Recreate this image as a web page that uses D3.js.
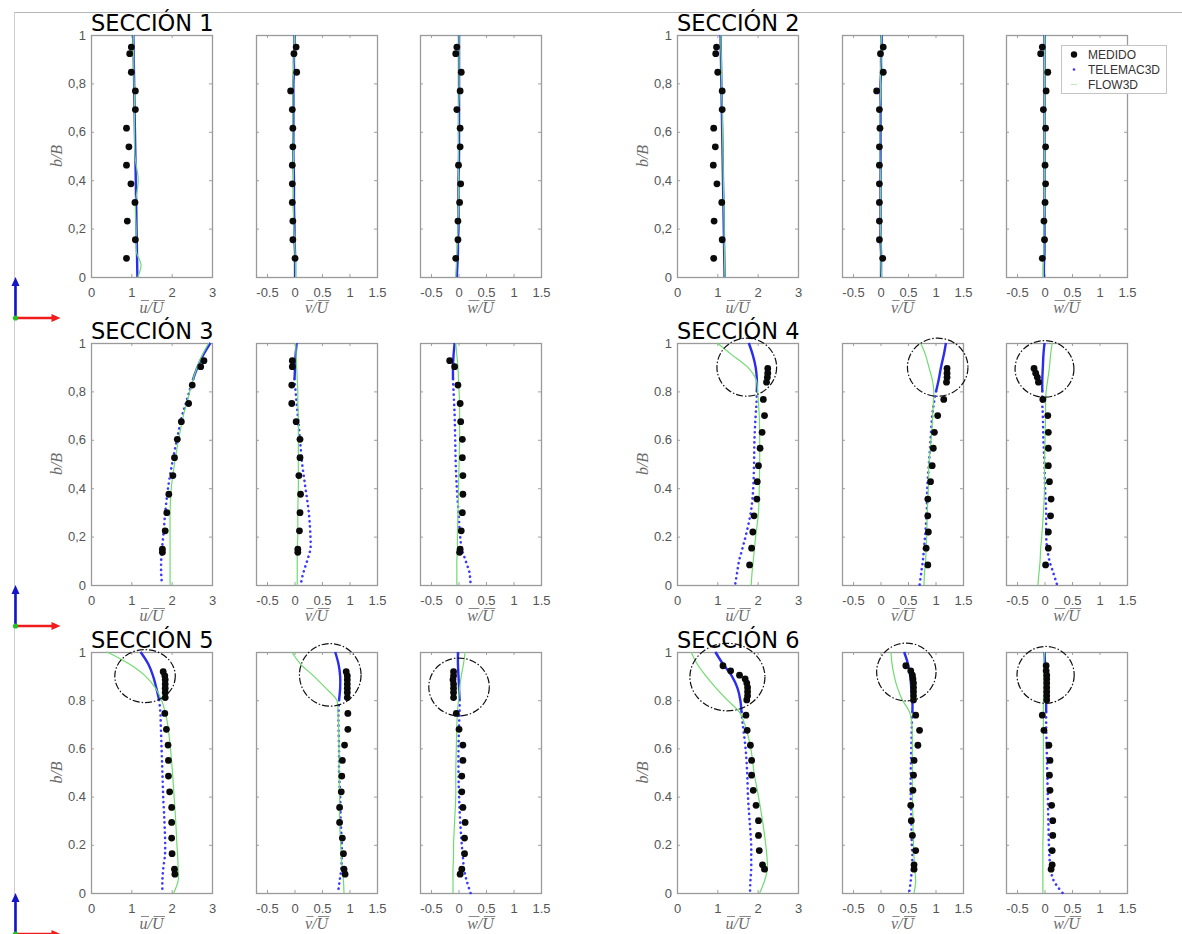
<!DOCTYPE html>
<html><head><meta charset="utf-8">
<script src="https://cdn.jsdelivr.net/npm/d3@7"></script>
<style>body{margin:0;background:#fff}svg{display:block}</style>
</head><body><svg id="c" width="1182" height="934"></svg>
<script>
// ---------- DATA ----------
const sectionTitles = ["SECCIÓN 1","SECCIÓN 2","SECCIÓN 3","SECCIÓN 4","SECCIÓN 5","SECCIÓN 6"];
const uTicks = [0,1,2,3];
const vwTicks = [-0.5,0,0.5,1,1.5];
const bTicks = [0,0.2,0.4,0.6,0.8,1];
const legendLabels = ["MEDIDO","TELEMAC3D","FLOW3D"];

// measured b/B levels per section
const measB = [
 [0.95,0.923,0.846,0.769,0.692,0.615,0.538,0.462,0.385,0.308,0.231,0.154,0.077],
 [0.95,0.923,0.846,0.769,0.692,0.615,0.538,0.462,0.385,0.308,0.231,0.154,0.077],
 [0.927,0.902,0.826,0.75,0.675,0.602,0.526,0.452,0.375,0.299,0.224,0.148,0.135],
 [0.895,0.875,0.858,0.838,0.767,0.70,0.631,0.565,0.493,0.427,0.355,0.286,0.219,0.152,0.083],
 [0.918,0.901,0.885,0.867,0.85,0.832,0.811,0.745,0.679,0.614,0.55,0.485,0.42,0.355,0.293,0.228,0.163,0.099,0.078],
 [0.943,0.922,0.904,0.888,0.871,0.853,0.835,0.818,0.801,0.738,0.675,0.613,0.55,0.489,0.426,0.364,0.30,0.239,0.176,0.117,0.099]
];
const measU = [
 [1.00,0.96,1.00,1.10,1.10,0.88,0.94,0.88,0.99,1.09,0.90,1.10,0.88],
 [0.98,0.96,1.01,1.12,1.12,0.91,0.95,0.90,0.99,1.11,0.92,1.12,0.91],
 [2.80,2.72,2.51,2.42,2.24,2.14,2.07,2.03,1.93,1.88,1.84,1.77,1.77],
 [2.25,2.25,2.24,2.22,2.14,2.17,2.11,2.06,2.02,1.99,1.98,1.91,1.88,1.85,1.80],
 [1.79,1.83,1.84,1.84,1.84,1.84,1.84,1.83,1.87,1.91,1.92,1.92,1.95,2.00,2.00,2.00,2.01,2.07,2.08],
 [1.14,1.33,1.55,1.69,1.73,1.75,1.75,1.75,1.73,1.71,1.74,1.82,1.85,1.85,1.89,1.96,2.02,2.02,2.04,2.12,2.17]
];
const measV = [
 [0.03,-0.01,0.04,-0.07,-0.04,-0.03,-0.03,-0.04,-0.04,-0.04,-0.03,-0.03,0.01],
 [0.05,0.00,0.05,-0.07,-0.02,-0.01,-0.02,-0.02,-0.02,-0.02,-0.02,-0.02,0.04],
 [-0.04,-0.04,-0.05,-0.05,0.03,0.10,0.10,0.08,0.11,0.10,0.09,0.06,0.06],
 [1.21,1.21,1.21,1.20,1.15,1.04,0.98,0.96,0.94,0.91,0.86,0.86,0.87,0.83,0.86],
 [0.94,0.96,0.96,0.96,0.96,0.96,0.96,0.97,0.97,0.91,0.87,0.86,0.85,0.82,0.82,0.87,0.89,0.90,0.92],
 [0.46,0.55,0.58,0.59,0.60,0.60,0.60,0.60,0.60,0.64,0.71,0.68,0.61,0.60,0.59,0.55,0.56,0.58,0.64,0.61,0.61]
];
const measW = [
 [-0.03,-0.05,0.05,0.03,-0.03,0.03,0.03,0.00,0.04,0.02,-0.01,-0.01,-0.05],
 [-0.04,-0.07,0.06,0.03,-0.02,0.02,0.02,0.01,0.02,0.01,-0.01,0.00,-0.04],
 [-0.16,-0.07,-0.01,0.03,0.04,0.07,0.07,0.08,0.08,0.07,0.05,0.03,0.02],
 [-0.19,-0.16,-0.13,-0.11,-0.03,0.06,0.07,0.07,0.07,0.09,0.12,0.11,0.07,0.07,0.02],
 [-0.09,-0.09,-0.10,-0.09,-0.09,-0.09,-0.09,-0.04,0.01,0.08,0.08,0.06,0.06,0.08,0.12,0.11,0.11,0.06,0.03],
 [0.03,0.03,0.04,0.04,0.04,0.04,0.04,0.04,0.04,-0.04,-0.01,0.08,0.10,0.09,0.10,0.13,0.15,0.15,0.14,0.14,0.12]
];

// simulated profiles, sampled at these b/B levels
const lineB = [1,0.95,0.9,0.85,0.8,0.75,0.7,0.6,0.5,0.4,0.3,0.2,0.15,0.1,0.05,0];
const telU = [
 [1.05,1.055,1.06,1.065,1.07,1.075,1.08,1.09,1.10,1.11,1.12,1.13,1.135,1.14,1.145,1.15],
 [1.08,1.085,1.09,1.095,1.10,1.105,1.11,1.12,1.13,1.14,1.15,1.16,1.165,1.17,1.175,1.18],
 [2.96,2.78,2.64,2.53,2.44,2.35,2.26,2.13,2.01,1.91,1.84,1.79,1.76,1.74,1.74,1.76],
 [1.78,1.88,1.95,1.98,1.98,1.97,1.95,1.92,1.91,1.89,1.83,1.70,1.62,1.54,1.49,1.44],
 [1.23,1.42,1.54,1.62,1.69,1.72,1.73,1.75,1.77,1.79,1.82,1.84,1.83,1.79,1.77,1.77],
 [0.95,1.14,1.36,1.50,1.57,1.60,1.63,1.70,1.74,1.76,1.80,1.84,1.84,1.84,1.82,1.81]
];
const flowU = [
 [1.05,1.05,1.06,1.06,1.07,1.08,1.08,1.08,1.09,1.17,1.10,1.12,1.12,1.13,1.24,1.16],
 [1.09,1.09,1.10,1.10,1.11,1.11,1.12,1.13,1.14,1.15,1.16,1.17,1.17,1.18,1.18,1.19],
 [2.92,2.76,2.63,2.53,2.45,2.37,2.29,2.17,2.07,1.99,1.96,1.96,1.96,1.96,1.96,1.96],
 [1.00,1.37,1.75,1.96,2.00,2.02,2.04,2.05,2.05,2.04,2.02,1.95,1.92,1.89,1.86,1.84],
 [0.40,0.95,1.35,1.60,1.75,1.84,1.90,1.97,2.02,2.06,2.10,2.13,2.15,2.16,2.16,2.05],
 [0.35,0.50,0.72,0.97,1.25,1.55,1.68,1.83,1.91,2.02,2.12,2.20,2.23,2.24,2.17,2.05]
];
const telV = [
 [0.00,0.00,-0.01,-0.01,-0.02,-0.02,-0.02,-0.02,-0.02,-0.01,-0.01,0.00,0.00,0.01,0.01,0.01],
 [0.02,0.02,0.01,0.01,0.00,0.00,0.00,0.00,0.00,0.00,0.00,0.00,0.00,0.01,0.01,0.01],
 [0.04,0.02,0.01,0.00,0.02,0.04,0.06,0.10,0.14,0.20,0.26,0.29,0.29,0.23,0.16,0.11],
 [1.19,1.15,1.10,1.06,1.01,0.97,0.94,0.91,0.88,0.85,0.84,0.81,0.79,0.77,0.74,0.71],
 [0.74,0.80,0.83,0.83,0.81,0.80,0.80,0.81,0.81,0.83,0.84,0.86,0.86,0.85,0.82,0.79],
 [0.43,0.50,0.54,0.56,0.58,0.58,0.57,0.56,0.55,0.55,0.56,0.57,0.58,0.57,0.55,0.52]
];
const flowV = [
 [0.00,0.00,-0.01,-0.02,-0.03,-0.03,-0.03,-0.03,-0.02,-0.02,-0.02,-0.01,0.00,0.01,0.02,0.02],
 [0.02,0.01,0.01,0.00,0.00,0.00,-0.01,-0.01,-0.01,0.00,0.00,0.00,0.01,0.01,0.01,0.02],
 [0.02,0.03,0.04,0.05,0.06,0.06,0.07,0.07,0.07,0.07,0.06,0.06,0.05,0.05,0.05,0.05],
 [0.73,0.82,0.88,0.94,0.97,0.96,0.95,0.92,0.88,0.87,0.85,0.84,0.83,0.82,0.80,0.79],
 [-0.05,0.11,0.35,0.57,0.77,0.79,0.80,0.81,0.81,0.82,0.82,0.84,0.85,0.87,0.89,0.90],
 [0.19,0.21,0.25,0.31,0.40,0.53,0.57,0.58,0.58,0.58,0.59,0.60,0.61,0.62,0.64,0.61]
];
const telW = [
 [0.01,0.01,0.01,0.01,0.01,0.01,0.01,0.01,0.01,0.00,0.00,0.00,-0.01,-0.01,-0.02,-0.03],
 [0.00,0.00,0.00,0.00,0.00,0.00,0.00,0.00,0.00,0.00,0.00,0.00,0.00,0.00,-0.01,-0.01],
 [-0.07,-0.09,-0.10,-0.10,-0.09,-0.08,-0.07,-0.06,-0.05,-0.03,0.00,0.03,0.06,0.13,0.20,0.22],
 [0.00,-0.02,-0.03,-0.04,-0.04,-0.04,-0.03,-0.02,0.00,0.01,0.03,0.03,0.05,0.09,0.16,0.23],
 [-0.01,-0.01,0.00,0.01,0.02,0.02,0.01,0.00,0.00,0.01,0.03,0.06,0.08,0.10,0.15,0.22],
 [0.00,0.01,0.02,0.03,0.03,0.03,0.03,0.04,0.05,0.06,0.07,0.08,0.09,0.11,0.17,0.33]
];
const flowW = [
 [0.01,0.01,0.01,0.01,0.01,0.01,0.00,0.00,0.00,0.00,0.00,-0.01,-0.02,-0.03,-0.04,-0.05],
 [0.00,0.00,0.00,0.00,0.00,0.00,0.00,0.00,0.00,0.00,0.00,-0.01,-0.01,-0.01,-0.02,-0.02],
 [-0.05,-0.03,-0.01,0.00,0.01,0.02,0.02,0.02,0.01,0.00,-0.01,-0.02,-0.02,-0.03,-0.03,-0.03],
 [0.14,0.11,0.09,0.06,0.03,0.02,0.02,0.01,0.00,0.00,-0.02,-0.05,-0.07,-0.08,-0.10,-0.12],
 [0.12,0.09,0.05,0.02,0.00,-0.02,-0.03,-0.04,-0.05,-0.05,-0.07,-0.09,-0.09,-0.10,-0.10,-0.10],
 [0.00,-0.01,-0.01,-0.01,-0.02,-0.02,-0.02,-0.02,-0.02,-0.02,-0.02,-0.03,-0.03,-0.03,-0.03,-0.03]
];
// b/B above which the TELEMAC3D profile is dense (drawn solid)
const telDenseFrom = [0,0,0.85,0.8,0.8,0.75];
// highlighted regions: [section, component, centre value, centre b/B, half-width (value), half-height (b/B)]
const rings = [
 [3,0,1.73,0.90,0.74,0.12],[3,1,1.04,0.90,0.55,0.12],[3,2,0.00,0.893,0.535,0.117],
 [4,0,1.34,0.90,0.75,0.11],[4,1,0.65,0.905,0.56,0.13],[4,2,0.01,0.855,0.55,0.12],
 [5,0,1.25,0.896,0.93,0.14],[5,1,0.47,0.917,0.54,0.12],[5,2,0.02,0.905,0.52,0.118]
];

// ---------- LAYOUT ----------
const svg = d3.select("#c");
const colX = [0,586];
const panelLeft = [91,256,420];
const PW = 121;
const rowTop = [35,343,652];
const rowH = [242,242,241];
const tickFont = "'Liberation Sans', Arial, sans-serif";
const serif = "'Liberation Serif','Times New Roman',serif";
const blueSolid = "#2a2cf0", blueDot = "#3a3aff", green = "#6fdc6f";

// frame lines
svg.append("line").attr("x1",14).attr("x2",1182).attr("y1",12.5).attr("y2",12.5).attr("stroke","#b5b5b5").attr("stroke-width",1);
svg.append("line").attr("x1",14.5).attr("x2",14.5).attr("y1",12).attr("y2",934).attr("stroke","#cfcfcf").attr("stroke-width",1);

const comps = [[measU,telU,flowU],[measV,telV,flowV],[measW,telW,flowW]];

sectionTitles.forEach((title,s)=>{
  const r = Math.floor(s/2), c = s%2;
  const top = rowTop[r], h = rowH[r], ox = colX[c];
  const y = d3.scaleLinear().domain([0,1]).range([top+h,top]);
  const comma = s<3;

  // coordinate glyph arrows
  const ax = ox + (c===0?15.5:602), base = top+h+41;
  svg.append("line").attr("x1",ax).attr("x2",ax).attr("y1",base).attr("y2",top+h+8).attr("stroke","#1414c8").attr("stroke-width",2.6);
  svg.append("path").attr("d",`M${ax-4},${top+h+9}L${ax},${top+h}L${ax+4},${top+h+9}Z`).attr("fill","#1414c8");
  svg.append("line").attr("x1",ax).attr("x2",ax+37).attr("y1",base).attr("y2",base).attr("stroke","#f01c1c").attr("stroke-width",2.6);
  svg.append("path").attr("d",`M${ax+36},${base-4}L${ax+45},${base}L${ax+36},${base+4}Z`).attr("fill","#f01c1c");
  svg.append("circle").attr("cx",ax).attr("cy",base).attr("r",2.6).attr("fill","#22c022");

  [0,1,2].forEach(k=>{
    const left = ox + panelLeft[k];
    const x = d3.scaleLinear().domain(k===0?[0,3]:[-0.7,1.5]).range([left,left+PW]);
    const g = svg.append("g");
    const [meas,tel,flow] = comps[k];

    // axes (ticks inside)
    const fmtX = d=> String(d);
    const fmtY = d=> { let t = d3.format("~g")(d); return comma? t.replace(".",","):t; };
    const gx = g.append("g").attr("transform",`translate(0,${top+h})`)
      .call(d3.axisBottom(x).tickValues(k===0?uTicks:vwTicks).tickSize(-3).tickPadding(10.5).tickFormat(fmtX));
    const gxt = g.append("g").attr("transform",`translate(0,${top})`)
      .call(d3.axisTop(x).tickValues(k===0?uTicks:vwTicks).tickSize(-3).tickFormat(""));
    const gy = g.append("g").attr("transform",`translate(${left},0)`)
      .call(d3.axisLeft(y).tickValues(bTicks).tickSize(-3).tickPadding(5).tickFormat(k===0?fmtY:""));
    const gyr = g.append("g").attr("transform",`translate(${left+PW},0)`)
      .call(d3.axisRight(y).tickValues(bTicks).tickSize(-3).tickFormat(""));
    [gx,gxt,gy,gyr].forEach(a=>{
      a.select(".domain").remove();
      a.selectAll(".tick line").attr("stroke","#a0a0a0");
      a.selectAll("text").attr("fill","#555").style("font-family",tickFont).style("font-size","13px");
    });
    g.append("rect").attr("x",left+0.5).attr("y",top+0.5).attr("width",PW).attr("height",h)
      .attr("fill","none").attr("stroke","#9a9a9a").attr("stroke-width",1.3);

    // x label with overlines drawn over the two letters
    const base2 = top+h+36;
    const lab = g.append("text").attr("x",left+PW/2).attr("y",base2).attr("text-anchor","middle")
      .style("font-family",serif).style("font-style","italic").style("font-size","16px").attr("fill","#6a6a6a")
      .text(["u","v","w"][k]+"/U");
    const node = lab.node();
    const nch = node.getNumberOfChars();
    [0,nch-1].forEach(ci=>{
      const e = node.getExtentOfChar(ci);
      g.append("line").attr("x1",e.x+1.5).attr("x2",e.x+e.width+1.5).attr("y1",base2-12.5).attr("y2",base2-12.5)
        .attr("stroke","#7a7a7a").attr("stroke-width",0.9);
    });

    if(k===0){
      g.append("text").attr("transform",`translate(${left-29},${top+h/2}) rotate(-90)`).attr("text-anchor","middle")
        .style("font-family",serif).style("font-style","italic").style("font-size","16px").attr("fill","#6a6a6a").text("b/B");
    }

    const line = d3.line().x(d=>x(d[0])).y(d=>y(d[1])).curve(d3.curveCatmullRom.alpha(0.5));
    const telPts = tel[s].map((v,i)=>[v,lineB[i]]);
    const flowPts = flow[s].map((v,i)=>[v,lineB[i]]);
    const sf = telDenseFrom[s];
    const dense = telPts.filter(p=>p[1]>=sf), sparse = telPts.filter(p=>p[1]<=sf);

    // TELEMAC3D
    if(sparse.length>1) g.append("path").attr("d",line(sparse)).attr("fill","none").attr("stroke",blueDot)
      .attr("stroke-width",2.6).attr("stroke-linecap","round").attr("stroke-dasharray","0.1,5");
    if(dense.length>1) g.append("path").attr("d",line(dense)).attr("fill","none").attr("stroke",blueSolid)
      .attr("stroke-width",2.4);
    // FLOW3D
    g.append("path").attr("d",line(flowPts)).attr("fill","none").attr("stroke",green).attr("stroke-width",1.2);

    // measured
    g.selectAll("circle.m").data(meas[s].map((v,i)=>[v,measB[s][i]])).join("circle").attr("class","m")
      .attr("cx",d=>x(d[0])).attr("cy",d=>y(d[1])).attr("r",3.4).attr("fill","#0a0a0a");

    // rings
    rings.filter(rg=>rg[0]===s && rg[1]===k).forEach(rg=>{
      g.append("ellipse").attr("cx",x(rg[2])).attr("cy",y(rg[3]))
        .attr("rx",Math.abs(x(rg[2]+rg[4])-x(rg[2]))).attr("ry",Math.abs(y(rg[3]+rg[5])-y(rg[3])))
        .attr("fill","none").attr("stroke","#111").attr("stroke-width",1.2).attr("stroke-dasharray","7,2,1.5,2");
    });
  });

  // title
  svg.append("text").attr("x",ox+91).attr("y",top-4).text(title)
    .style("font-family","'DejaVu Sans',Verdana,sans-serif").style("font-size","22.5px").attr("fill","#000");
});

// legend (in SECCIÓN 2, third panel)
const lg = svg.append("g");
lg.append("rect").attr("x",1061.5).attr("y",45.5).attr("width",105).attr("height",48).attr("fill","#fff").attr("stroke","#c4c4c4");
legendLabels.forEach((t,i)=>{
  const yy = 54.5 + i*15;
  if(i===0) lg.append("circle").attr("cx",1074).attr("cy",yy).attr("r",3.2).attr("fill","#0a0a0a");
  if(i===1) lg.append("circle").attr("cx",1074).attr("cy",yy).attr("r",1.3).attr("fill",blueDot);
  if(i===2) lg.append("line").attr("x1",1071).attr("x2",1077).attr("y1",yy).attr("y2",yy).attr("stroke",green).attr("stroke-width",0.8).attr("opacity",0.6);
  lg.append("text").attr("x",1088).attr("y",yy+4).text(t).style("font-family",tickFont).style("font-size","12px").attr("fill","#333");
});
</script></body></html>
